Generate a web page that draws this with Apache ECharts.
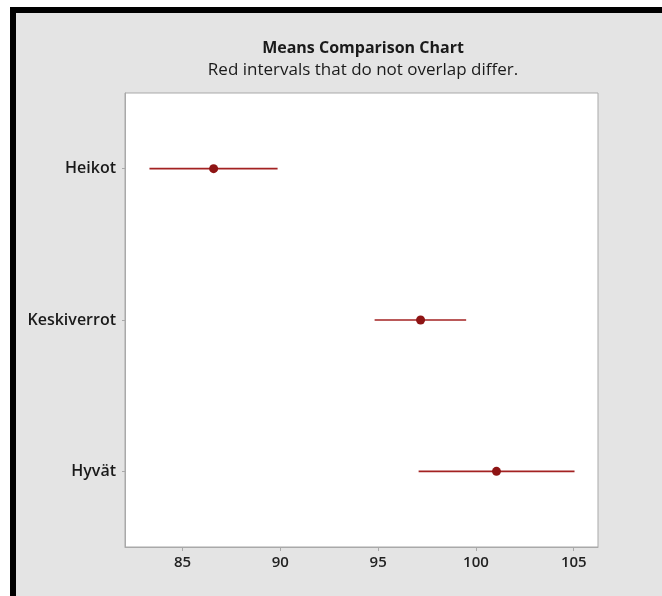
<!DOCTYPE html>
<html>
<head>
<meta charset="utf-8">
<script src="https://cdn.jsdelivr.net/npm/echarts@6/dist/echarts.min.js"></script>
<style>
  html, body { margin: 0; padding: 0; background: #fff; }
  #chart { width: 662px; height: 596px; }
</style>
</head>
<body>
<div id="chart"></div>
<script>
// Groups, top to bottom
const groups = ['Heikot', 'Keskiverrot', 'Hyvät'];
// Interval lower bound, mean, upper bound per group
const lower = [83.31, 94.82, 97.07];
const means = [86.59, 97.17, 101.05];
const upper = [89.86, 99.50, 105.04];
// Value axis ticks
const xTicks = [85, 90, 95, 100, 105];

const intervalData = groups.map((g, i) => [i, lower[i], means[i], upper[i]]);

const chart = echarts.init(document.getElementById('chart'), null, { renderer: 'canvas' });

chart.setOption({
  backgroundColor: '#ffffff',
  animation: false,
  graphic: [
    { type: 'rect', z: -10, shape: { x: 10, y: 7, width: 652, height: 589 }, style: { fill: '#000000' } },
    { type: 'rect', z: -9, shape: { x: 16, y: 13, width: 646, height: 583 }, style: { fill: '#e4e4e4' } }
  ],
  title: [
    {
      text: 'Means Comparison Chart',
      left: 358, top: 35, textAlign: 'center',
      textStyle: { fontFamily: 'Open Sans', fontSize: 16, fontWeight: 700, color: '#1a1a1a' }
    },
    {
      text: 'Red intervals that do not overlap differ.',
      left: 358, top: 57, textAlign: 'center',
      textStyle: { fontFamily: 'Open Sans', fontSize: 17, fontWeight: 400, color: '#1a1a1a' }
    }
  ],
  grid: {
    left: 125, right: 64, top: 93, bottom: 49,
    show: true, backgroundColor: '#ffffff', borderColor: '#a9a9a9', borderWidth: 1
  },
  xAxis: {
    type: 'value',
    min: 82.06, max: 106.24,
    axisLine: { show: true, lineStyle: { color: '#a9a9a9' } },
    axisTick: { show: true, length: 4, lineStyle: { color: '#a9a9a9' }, customValues: xTicks },
    splitLine: { show: false },
    axisLabel: {
      margin: 8,
      fontFamily: 'Open Sans', fontSize: 15, fontWeight: 600, color: '#222222',
      customValues: xTicks
    }
  },
  yAxis: {
    type: 'category',
    data: groups,
    inverse: true,
    axisLine: { show: true, lineStyle: { color: '#a9a9a9' } },
    axisTick: { show: true, alignWithLabel: true, length: 3, lineStyle: { color: '#a9a9a9' } },
    axisLabel: {
      margin: 9,
      fontFamily: 'Open Sans', fontSize: 16, fontWeight: 600, color: '#1a1a1a'
    },
    splitLine: { show: false }
  },
  series: [{
    type: 'custom',
    data: intervalData,
    encode: { x: [1, 2, 3], y: 0 },
    renderItem: function (params, api) {
      const cat = api.value(0);
      const pLo = api.coord([api.value(1), cat]);
      const pMid = api.coord([api.value(2), cat]);
      const pHi = api.coord([api.value(3), cat]);
      return {
        type: 'group',
        children: [
          {
            type: 'line',
            shape: { x1: pLo[0], y1: pLo[1], x2: pHi[0], y2: pHi[1] },
            style: { stroke: '#a32222', lineWidth: 1.6 }
          },
          {
            type: 'circle',
            shape: { cx: pMid[0], cy: pMid[1], r: 4.5 },
            style: { fill: '#8e1414' }
          }
        ]
      };
    }
  }]
});
</script>
</body>
</html>
